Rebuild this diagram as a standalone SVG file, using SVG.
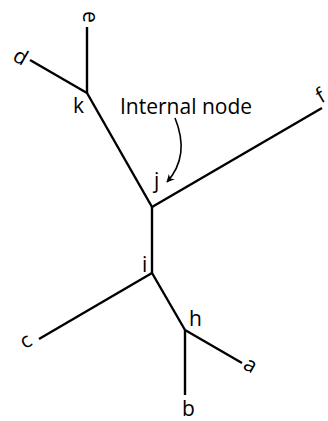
<svg xmlns="http://www.w3.org/2000/svg" width="328" height="421" viewBox="0 0 328 421">
  <style>
    .edge { stroke: #000; stroke-width: 2.4; fill: none; stroke-linecap: butt; }
    .lbl { font-family: "Open Sans", "Liberation Sans", sans-serif; font-size: 21px; fill: #000; }
    .leaf { text-anchor: middle; dominant-baseline: central; }
    .note { font-family: "Open Sans", "Liberation Sans", sans-serif; font-size: 21px; fill: #000; }
    .pointer { stroke: #000; stroke-width: 1.6; fill: none; }
  </style>
  <defs>
    <marker id="arrowhead" viewBox="0 0 10 10" refX="9" refY="5" markerWidth="8" markerHeight="8" markerUnits="userSpaceOnUse" orient="auto">
      <path d="M0,0 L10,5 L0,10 L3,5 Z" fill="#000"/>
    </marker>
  </defs>
  <rect width="328" height="421" fill="#fff"/>

  <!-- branches of the unrooted tree -->
  <g id="edges">
    <line class="edge" x1="87" y1="93" x2="87" y2="27"/>
    <line class="edge" x1="87" y1="93" x2="30" y2="60"/>
    <line class="edge" x1="87" y1="93" x2="152" y2="207"/>
    <line class="edge" x1="152" y1="207" x2="322" y2="108"/>
    <line class="edge" x1="152" y1="207" x2="152" y2="273"/>
    <line class="edge" x1="152" y1="273" x2="39" y2="339"/>
    <line class="edge" x1="152" y1="273" x2="185" y2="330"/>
    <line class="edge" x1="185" y1="330" x2="242" y2="363"/>
    <line class="edge" x1="185" y1="330" x2="185" y2="395"/>
  </g>

  <!-- leaves, labels rotated along their branch -->
  <g id="leaf-e"><text class="lbl leaf" transform="translate(91,17) rotate(90)">e</text></g>
  <g id="leaf-d"><text class="lbl leaf" transform="translate(21,56) rotate(30)">d</text></g>
  <g id="leaf-f"><text class="lbl leaf" transform="translate(320,95) rotate(-30)">f</text></g>
  <g id="leaf-c"><text class="lbl leaf" transform="translate(25,340) rotate(-30)">c</text></g>
  <g id="leaf-a"><text class="lbl leaf" transform="translate(251,364) rotate(30)">a</text></g>
  <g id="leaf-b"><text class="lbl" x="182" y="416">b</text></g>

  <!-- internal nodes -->
  <g id="node-k"><text class="lbl" x="73" y="113">k</text></g>
  <g id="node-j"><text class="lbl" x="154" y="188">j</text></g>
  <g id="node-i"><text class="lbl" x="142" y="272">i</text></g>
  <g id="node-h"><text class="lbl" x="189" y="326">h</text></g>

  <!-- annotation -->
  <g id="note-internal-node">
    <text class="note" x="120" y="114">Internal node</text>
    <path class="pointer" d="M175,118 C184,140 184,163 167,182" marker-end="url(#arrowhead)"/>
  </g>
</svg>
